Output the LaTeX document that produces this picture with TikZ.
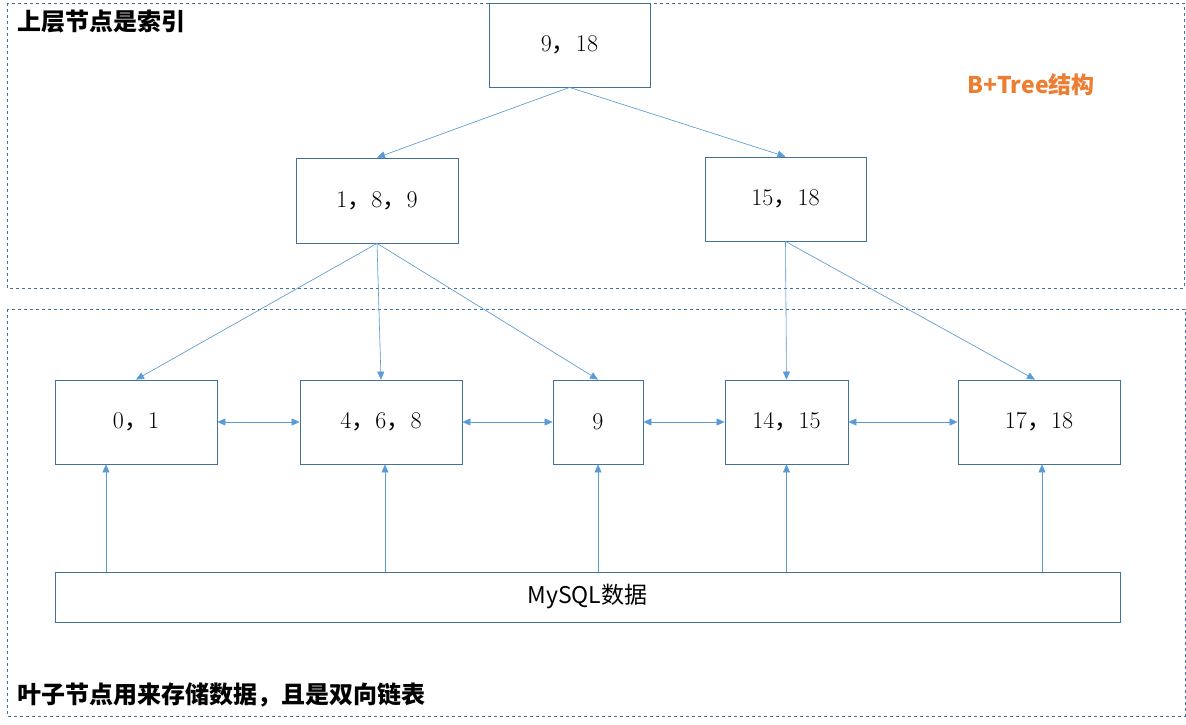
\documentclass[tikz,border=0pt]{standalone}
\usepackage{fontspec}
\usepackage{tikz}
\usetikzlibrary{arrows.meta,positioning}
\newfontfamily\cjk{Noto Sans CJK SC}
\definecolor{boxline}{HTML}{41719C}
\definecolor{arrline}{HTML}{5B9BD5}
\definecolor{orangetxt}{HTML}{ED7D31}
\newcommand{\dou}{{\cjk ，}}
\tikzset{
  keyn/.style={draw=boxline, line width=0.8pt, fill=white, inner sep=0pt,
               minimum width=162pt, minimum height=84pt,
               font=\fontsize{24}{28}\selectfont},
  datan/.style={keyn, minimum height=50pt, font=\cjk\fontsize{23}{27}\selectfont},
  ar/.style={-{Triangle[length=8pt,width=7pt]}, line width=0.6pt, draw=arrline, fill=arrline},
  dar/.style={{Triangle[length=8pt,width=7pt]}-{Triangle[length=8pt,width=7pt]},
              line width=0.6pt, draw=arrline, fill=arrline},
  frame/.style={draw=boxline, line width=0.7pt, dashed},
  lbl/.style={anchor=west, inner sep=0pt, font=\cjk\bfseries\fontsize{24}{28}\selectfont},
}
\begin{document}
\begin{tikzpicture}[x=1pt,y=-1pt]
\useasboundingbox (0,0) rectangle (1186,725);

% ---- frames ----
\draw[frame] (7,3) rectangle (1184,288);
\draw[frame] (7,309) rectangle (1185,716);

% ---- index nodes ----
\node[keyn, minimum width=161pt] (root) at (569.5,45) {9\dou 18};
\node[keyn, minimum height=85pt] (n1) at (377,200.5) {1\dou 8\dou 9};
\node[keyn, minimum width=161pt] (n2) at (785.5,199) {15\dou 18};

% ---- leaves ----
\node[keyn] (l0) at (136,422) {0\dou 1};
\node[keyn] (l1) at (381,422) {4\dou 6\dou 8};
\node[keyn, minimum width=90pt] (l2) at (598,422) {9};
\node[keyn, minimum width=123pt] (l3) at (786.5,422) {14\dou 15};
\node[keyn] (l4) at (1039,422) {17\dou 18};

\node[datan, minimum width=1065pt] (data) at (587.5,597) {MySQL数据};

% ---- labels ----
\node[lbl] (toplbl) at (17,22) {上层节点是索引};
\node[lbl] (botlbl) at (17,695) {叶子节点用来存储数据，且是双向链表};
\node[font=\cjk\bfseries\fontsize{23}{27}\selectfont, text=orangetxt] (title) at (1031,85) {B+Tree结构};

% ---- tree edges ----
\draw[ar] (root.south) -- (n1.north);
\draw[ar] (root.south) -- (n2.north);
\draw[ar] (n1.south) -- (l0.north);
\draw[ar] (n1.south) -- (l1.north);
\draw[ar] (n1.south) -- (l2.north);
\draw[ar] (n2.south) -- (l3.north);
\draw[ar] (n2.south) -- ([xshift=-4pt]l4.north);

% ---- leaf links ----
\draw[dar] (l0.east) -- (l1.west);
\draw[dar] (l1.east) -- (l2.west);
\draw[dar] (l2.east) -- (l3.west);
\draw[dar] (l3.east) -- (l4.west);

% ---- data to leaves ----
\draw[ar] ([xshift=-30pt]l0.south |- data.north) -- ([xshift=-30pt]l0.south);
\draw[ar] ([xshift=4pt]l1.south |- data.north) -- ([xshift=4pt]l1.south);
\draw[ar] (l2.south |- data.north) -- (l2.south);
\draw[ar] (l3.south |- data.north) -- (l3.south);
\draw[ar] ([xshift=3pt]l4.south |- data.north) -- ([xshift=3pt]l4.south);

\end{tikzpicture}
\end{document}
